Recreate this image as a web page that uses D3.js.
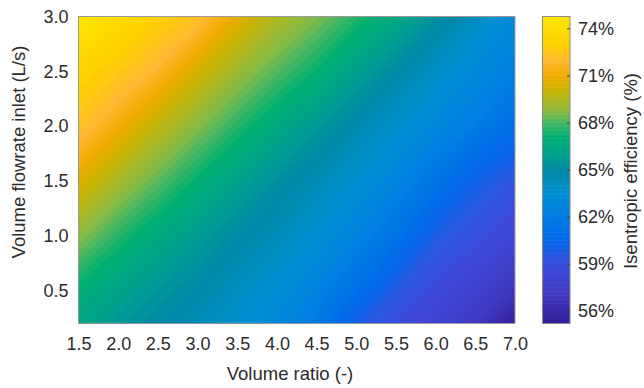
<!DOCTYPE html>
<html>
<head>
<meta charset="utf-8">
<script src="https://cdn.jsdelivr.net/npm/d3@7"></script>
<style>
  html, body { margin: 0; padding: 0; background: #fff; }
  svg { display: block; font-family: "Liberation Sans", Arial, sans-serif; }
</style>
</head>
<body>
<svg id="chart" width="644" height="388"></svg>
<script>
// Sample grid: volume ratio (columns) and inlet volume flowrate (rows)
const volumeRatio = [1.5, 2.0, 2.5, 3.0, 3.5, 4.0, 4.5, 5.0, 5.5, 6.0, 6.5, 7.0];
const flowRate = [0.2, 0.5, 1.0, 1.5, 2.0, 2.5, 3.0];

// Isentropic efficiency (%) along each flowrate row
const effFlow0_2 = [66.3, 65.6, 65.0, 64.4, 63.7, 62.9, 61.8, 59.9, 58.8, 58.0, 57.1, 55.4];
const effFlow0_5 = [67.0, 66.2, 65.5, 64.9, 64.2, 63.4, 62.4, 61.2, 59.6, 58.6, 57.8, 56.8];
const effFlow1_0 = [68.8, 67.6, 66.6, 65.8, 65.0, 64.4, 63.5, 62.5, 61.4, 59.8, 59.0, 58.2];
const effFlow1_5 = [70.6, 69.3, 68.2, 67.1, 66.1, 65.2, 64.5, 63.6, 62.6, 61.5, 60.1, 59.3];
const effFlow2_0 = [72.3, 71.1, 69.8, 68.7, 67.6, 66.6, 65.6, 64.7, 63.8, 62.8, 62.0, 61.0];
const effFlow2_5 = [73.3, 72.6, 71.7, 70.3, 69.1, 68.1, 67.2, 66.0, 65.0, 64.0, 62.9, 62.2];
const effFlow3_0 = [74.8, 73.9, 73.0, 72.3, 70.7, 69.5, 68.6, 67.6, 66.5, 65.3, 64.2, 63.0];
const efficiencyRows = [effFlow0_2, effFlow0_5, effFlow1_0, effFlow1_5, effFlow2_0, effFlow2_5, effFlow3_0];

// Tick labels
const xTicks = [1.5, 2.0, 2.5, 3.0, 3.5, 4.0, 4.5, 5.0, 5.5, 6.0, 6.5, 7.0];
const yTicks = [0.5, 1.0, 1.5, 2.0, 2.5, 3.0];
const colorTicks = [56, 59, 62, 65, 68, 71, 74];

// Colormap stops (efficiency % -> colour)
const cmapValues = [55.2, 56.0, 57.0, 58.5, 59.6, 60.2, 61.1, 62.3, 63.6, 64.9, 65.9, 67.2, 68.1, 68.7, 69.5, 70.2, 71.0, 71.9, 73.0, 74.75];
const cmapColors = ["#30209a", "#3828a8", "#4038c0", "#4048d8", "#2858e0", "#0862e8", "#0070e8", "#0080e0", "#0090d0", "#0088a8",
                    "#00a090", "#00b070", "#50b860", "#88bb44", "#b0b820", "#ceb200", "#f2ac00", "#ffb833", "#ffd000", "#ffe600"];

const svg = d3.select("#chart");
const plot = { left: 78.5, right: 515, top: 16.5, bottom: 323.5 };
const cbar = { left: 542.5, right: 570, top: 16.5, bottom: 323.5 };
const valueMin = 55.2, valueMax = 74.75;
const fontFamily = "Liberation Sans, Arial, sans-serif";
const fontSize = 18;
const titleSize = 18.5;
const textColor = "#2b2b2b";

const x = d3.scaleLinear().domain([1.5, 7.0]).range([plot.left, plot.right]);
const y = d3.scaleLinear().domain([0.2, 3.0]).range([plot.bottom, plot.top]);
const color = d3.scaleLinear().domain(cmapValues).range(cmapColors).interpolate(d3.interpolateRgb).clamp(true);

// Grid index -> data value (piecewise linear across non-uniform samples)
const colToRatio = d3.scaleLinear().domain(d3.range(volumeRatio.length)).range(volumeRatio);
const rowToFlow = d3.scaleLinear().domain(d3.range(flowRate.length)).range(flowRate);

const nx = volumeRatio.length, ny = flowRate.length;
const grid = [];
efficiencyRows.forEach(row => row.forEach(v => grid.push(v)));

const step = 0.25;
const thresholds = d3.range(55, 75 + 1e-9, step);
const contours = d3.contours().size([nx, ny]).thresholds(thresholds)(grid);

const toPixel = ([gx, gy]) => {
  const ci = Math.max(0, Math.min(nx - 1, gx - 0.5));
  const ri = Math.max(0, Math.min(ny - 1, gy - 0.5));
  return [x(colToRatio(ci)), y(rowToFlow(ri))];
};
const pathFor = geom => geom.coordinates.map(poly =>
  poly.map(ring => "M" + ring.map(p => toPixel(p).map(v => v.toFixed(2)).join(",")).join("L") + "Z").join("")
).join("");

svg.append("clipPath").attr("id", "plotClip")
  .append("rect").attr("x", plot.left).attr("y", plot.top)
  .attr("width", plot.right - plot.left).attr("height", plot.bottom - plot.top);

// Filled contour bands
const filled = svg.append("g").attr("clip-path", "url(#plotClip)");
filled.selectAll("path").data(contours).join("path")
  .attr("d", pathFor)
  .attr("fill", d => color(d.value + step / 2))
  .attr("stroke", d => color(d.value + step / 2))
  .attr("stroke-width", 0.4);

svg.append("rect").attr("x", plot.left).attr("y", plot.top)
  .attr("width", plot.right - plot.left).attr("height", plot.bottom - plot.top)
  .attr("fill", "none").attr("stroke", "#9a9a9a").attr("stroke-width", 1);

// Axes
const xAxis = d3.axisBottom(x).tickValues(xTicks).tickFormat(d3.format(".1f")).tickSize(0).tickPadding(14);
svg.append("g").attr("transform", `translate(0,${plot.bottom})`).call(xAxis)
  .call(g => g.select(".domain").remove())
  .selectAll("text").attr("font-size", fontSize).attr("fill", textColor).attr("font-family", fontFamily);

const yAxis = d3.axisLeft(y).tickValues(yTicks).tickFormat(d3.format(".1f")).tickSize(0).tickPadding(10);
svg.append("g").attr("transform", `translate(${plot.left},0)`).call(yAxis)
  .call(g => g.select(".domain").remove())
  .selectAll("text").attr("font-size", fontSize).attr("fill", textColor).attr("font-family", fontFamily);

svg.append("text").attr("x", 290).attr("y", 380).attr("text-anchor", "middle")
  .attr("font-size", titleSize).attr("fill", textColor).text("Volume ratio (-)");

svg.append("text").attr("transform", "translate(25,152) rotate(-90)").attr("text-anchor", "middle")
  .attr("font-size", titleSize).attr("fill", textColor).text("Volume flowrate inlet (L/s)");

// Colour bar drawn from the same contour levels
const cb = d3.scaleLinear().domain([valueMin, valueMax]).range([cbar.bottom, cbar.top]);
const cbLevels = thresholds.filter(t => t + step > valueMin && t < valueMax);
svg.append("g").selectAll("rect").data(cbLevels).join("rect")
  .attr("x", cbar.left)
  .attr("width", cbar.right - cbar.left)
  .attr("y", d => cb(Math.min(valueMax, d + step)))
  .attr("height", d => cb(Math.max(valueMin, d)) - cb(Math.min(valueMax, d + step)) + 0.5)
  .attr("fill", d => color(d + step / 2));

svg.append("rect").attr("x", cbar.left).attr("y", cbar.top)
  .attr("width", cbar.right - cbar.left).attr("height", cbar.bottom - cbar.top)
  .attr("fill", "none").attr("stroke", "#8a8a8a").attr("stroke-width", 1);

const cbAxis = d3.axisRight(cb).tickValues(colorTicks).tickFormat(d => d + "%").tickSize(0).tickPadding(8);
const cbG = svg.append("g").attr("transform", `translate(${cbar.right},0)`).call(cbAxis);
cbG.select(".domain").remove();
cbG.selectAll("text").attr("font-size", fontSize).attr("fill", textColor).attr("font-family", fontFamily);
cbG.selectAll(".tick").append("line").attr("x1", -3).attr("x2", 0).attr("stroke", "#444");

svg.append("text").attr("transform", "translate(637,171) rotate(-90)").attr("text-anchor", "middle")
  .attr("font-size", titleSize).attr("fill", textColor).text("Isentropic efficiency (%)");
</script>
</body>
</html>
